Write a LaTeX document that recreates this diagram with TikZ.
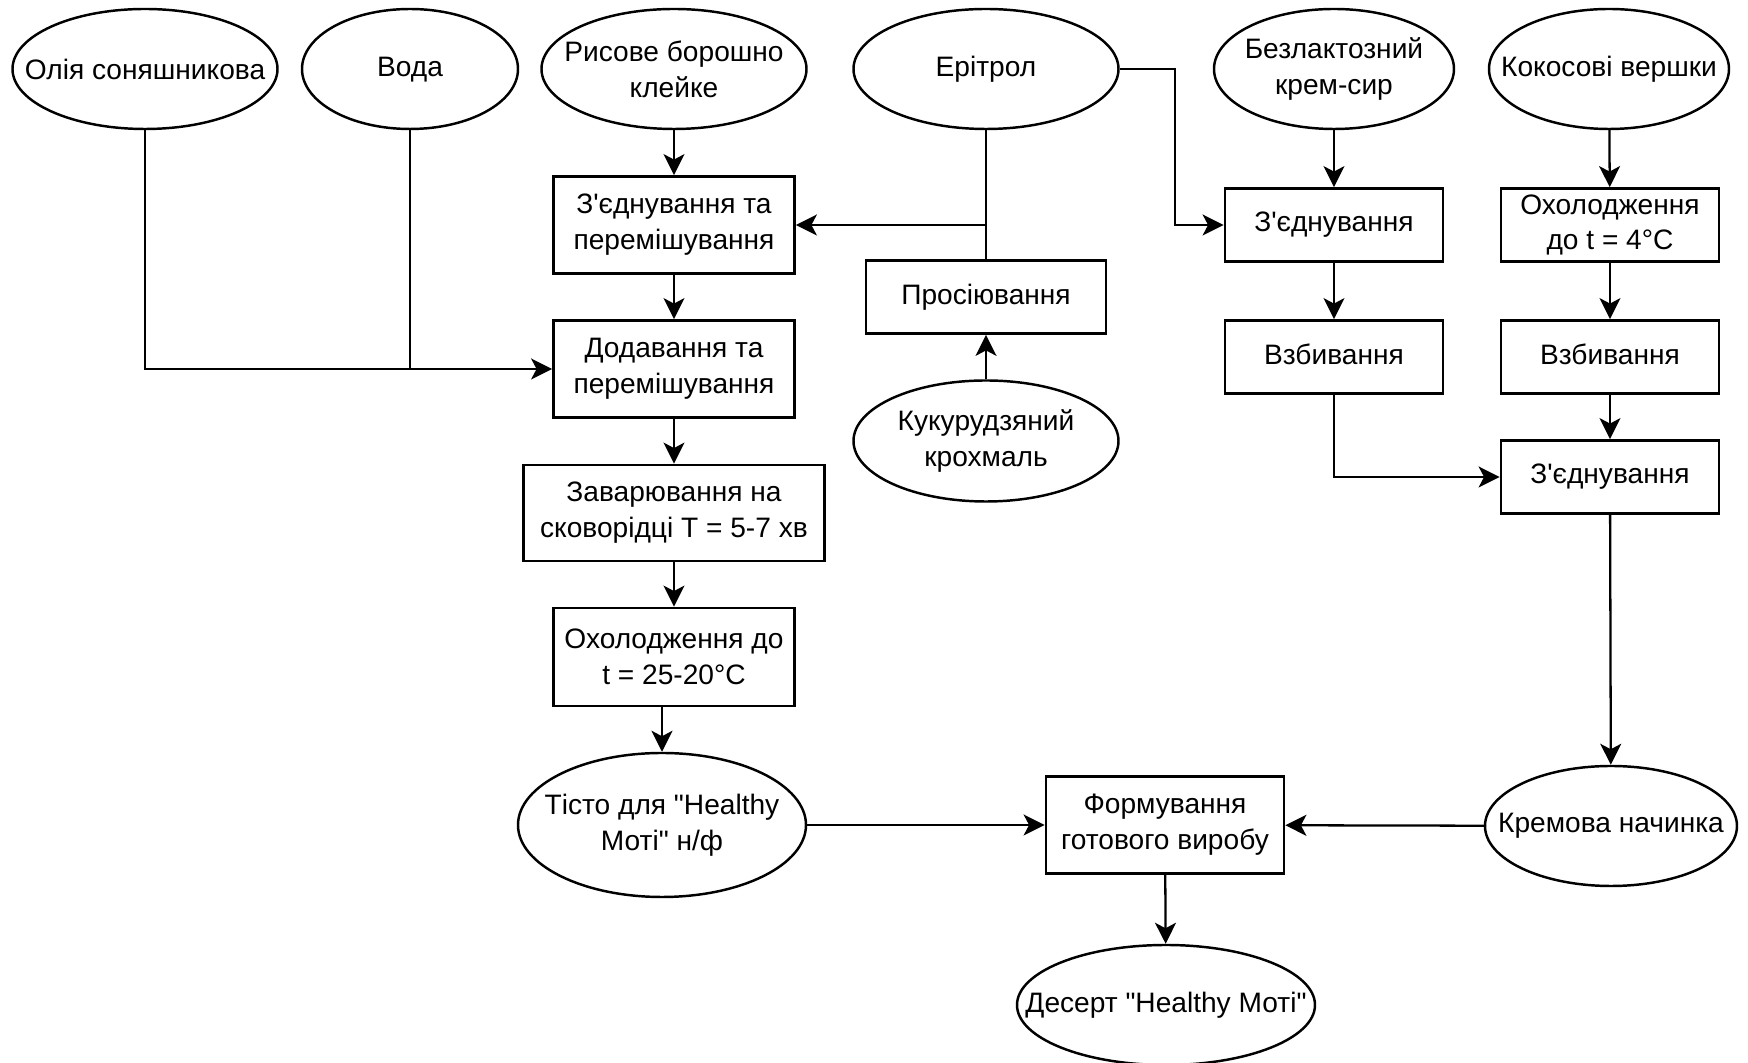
\documentclass[tikz,border=0pt]{standalone}
\usepackage{fontspec}
\setmainfont{Liberation Sans}[Ligatures=TeXOff]
\usepackage{xcolor}
\usetikzlibrary{arrows.meta,shapes.geometric}
\definecolor{cLine}{HTML}{000000}
\tikzset{
  box/.style  = {rectangle, draw=cLine, line width=0.8pt, align=center,
                 font=\fontsize{8}{10.2}\selectfont, inner sep=1pt,
                 minimum width=24.1mm, minimum height=9.7mm},
  boxs/.style = {box, minimum width=21.8mm, minimum height=7.3mm},
  oval/.style = {ellipse, draw=cLine, line width=0.7pt, align=center,
                 font=\fontsize{8}{10.2}\selectfont, inner xsep=-8mm, inner ysep=0pt,
                 minimum width=26.5mm, minimum height=12mm},
  fl/.style   = {-{Stealth[length=2.1mm,width=2.1mm,inset=0.55mm]}, draw=cLine, line width=0.65pt},
  ln/.style   = {draw=cLine, line width=0.65pt},
}
\begin{document}
\begin{tikzpicture}
      \fill[white] (0,0) rectangle (17.48,-10.63);
      \useasboundingbox (0,0) rectangle (17.48,-10.63);

      % ---- INGREDIENTS ----
      \node[oval] (oil) at (1.45,-0.69) {Олія соняшникова};
      \node[oval, minimum width=21.6mm] (water) at (4.10,-0.69) {Вода\strut};
      \node[oval] (flour) at (6.74,-0.69) {Рисове борошно\\клейке};
      \node[oval] (erit) at (9.86,-0.69) {Ерітрол\strut};
      \node[oval, minimum width=24mm] (cheese) at (13.34,-0.69) {Безлактозний\\крем-сир};
      \node[oval, minimum width=24mm] (coco) at (16.09,-0.69) {Кокосові вершки};

      % ---- DOUGH ----
      \node[box] (mix) at (6.74,-2.25) {З'єднування та\\перемішування};
      \node[box] (add) at (6.74,-3.69) {Додавання та\\перемішування};
      \node[box, minimum width=30.1mm, minimum height=9.6mm] (cook) at (6.74,-5.13) {Заварювання на\\сковорідці Т = 5-7 хв};
      \node[box, minimum height=9.8mm] (cool) at (6.74,-6.57) {Охолодження до\\t = 25-20°C};
      \node[oval, minimum width=28.8mm, minimum height=14.4mm] (dough) at (6.62,-8.25) {Тісто для "Healthy\\Моті" н/ф};
      \node[boxs, minimum width=24mm] (sift) at (9.86,-2.97) {Просіювання};
      \node[oval, minimum height=12.1mm] (starch) at (9.86,-4.41) {Кукурудзяний\\крохмаль};

      % ---- FILLING ----
      \node[boxs] (join) at (13.34,-2.25) {З'єднування};
      \node[boxs] (whipa) at (13.34,-3.57) {Взбивання\strut};
      \node[boxs] (chill) at (16.10,-2.25) {Охолодження\\до t = 4°C};
      \node[boxs] (whipb) at (16.10,-3.57) {Взбивання\strut};
      \node[boxs] (joinb) at (16.10,-4.77) {З'єднування};
      \node[oval, minimum width=25.2mm] (cream) at (16.11,-8.26) {Кремова начинка};

      % ---- PRODUCT ----
      \node[box, minimum width=23.8mm] (form) at (11.65,-8.25) {Формування\\готового виробу};
      \node[oval, minimum width=29.8mm] (dessert) at (11.66,-10.05) {Десерт "Healthy Моті"};

      % ---- FLOW ----
      \draw[fl] (flour) -- (mix);
      \draw[fl] (mix) -- (add);
      \draw[fl] (add) -- (cook);
      \draw[fl] (cook) -- (cool);
      \draw[fl] (dough.north |- cool.south) -- (dough.north);
      \draw[fl] (oil.south) |- (add.west);
      \draw[ln] (water.south) -- (water.south |- add.west);
      \draw[ln] (erit) -- (sift);
      \draw[fl] (erit.south |- mix.east) -- (mix.east);
      \draw[fl] (starch) -- (sift);
      \draw[fl] (erit.east) -- ++(0.55,0) |- (join.west);
      \draw[fl] (cheese) -- (join);
      \draw[fl] (join) -- (whipa);
      \draw[fl] (coco) -- (chill);
      \draw[fl] (chill) -- (whipb);
      \draw[fl] (whipb) -- (joinb);
      \draw[fl] (whipa.south) |- (joinb.west);
      \draw[fl] (joinb) -- (cream);
      \draw[fl] (dough) -- (form);
      \draw[fl] (cream) -- (form);
      \draw[fl] (form) -- (dessert);
\end{tikzpicture}
\end{document}
